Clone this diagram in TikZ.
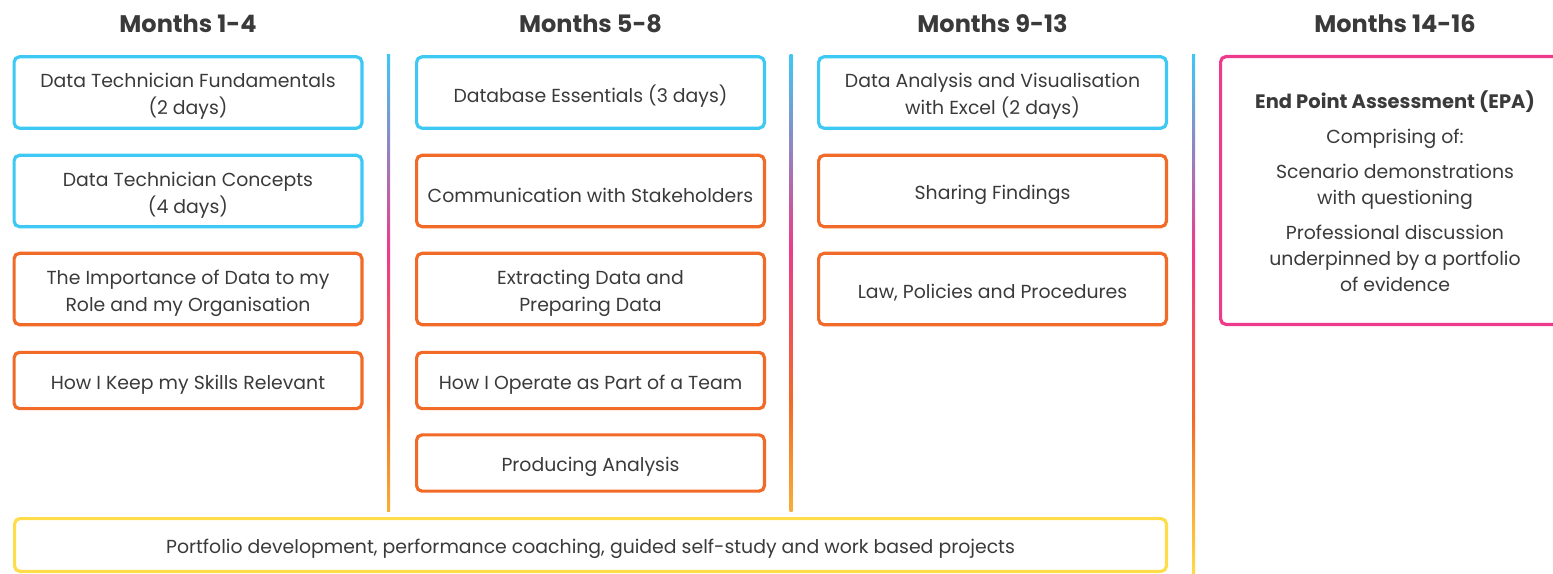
\documentclass[tikz,border=0pt]{standalone}
\usepackage{fontspec}
\setmainfont{Poppins}
\definecolor{cblue}{HTML}{3EC8F4}
\definecolor{corange}{HTML}{F26A27}
\definecolor{cpink}{HTML}{EE3A8A}
\definecolor{cyellow}{HTML}{FFDC4A}
\definecolor{ctext}{HTML}{3A3A3A}
\definecolor{lyel}{HTML}{F8AE36}
\pgfdeclareverticalshading{gradA}{100bp}{color(0bp)=(lyel); color(25bp)=(lyel); color(37bp)=(corange); color(53.6bp)=(cpink); color(75bp)=(cblue); color(100bp)=(cblue)}
\pgfdeclareverticalshading{gradB}{100bp}{color(0bp)=(cyellow); color(25bp)=(cyellow); color(40bp)=(corange); color(56bp)=(cpink); color(75bp)=(cblue); color(100bp)=(cblue)}
\tikzset{
  frame/.style={rounded corners=4pt, line width=2.4pt, inner sep=0pt},
  txt/.style={font=\fontsize{14.15}{20.25}\selectfont, text=ctext, align=center, inner sep=0pt},
  bluebox/.style={frame, draw=cblue, minimum width=260.85pt},
  orbox/.style={frame, draw=corange, minimum width=260.85pt},
  tall/.style={minimum height=53.5pt},
  short/.style={minimum height=42.2pt},
  head/.style={font=\fontsize{18}{22}\selectfont\bfseries, text=ctext, inner sep=0pt}
}
\newcommand{\boxitem}[5]{\node[#2] (#1) at (#3,#4) {};
  \node[txt] (#1t) at ([yshift=-3pt]#1.center) {#5};}
\begin{document}
\begin{tikzpicture}[x=0.75pt,y=-0.75pt]
\useasboundingbox (0,0) rectangle (1553,574);
\clip (0,0) rectangle (1553,574);
% headers
\node[head] (h1) at (188,24) {Months 1-4};
\node[head] (h2) at (590.5,24) {Months 5-8};
\node[head] (h3) at (992.5,24) {Months 9-13};
\node[head] (h4) at (1395,24) {Months 14-16};
% dividers
\shade[shading=gradA] (387,55) rectangle (390,511);
\shade[shading=gradA] (789.5,55) rectangle (792.5,511);
\shade[shading=gradB] (1192,55) rectangle (1195,574);
% column 1
\boxitem{a1}{bluebox,tall}{188}{92.5}{Data Technician Fundamentals\\(2 days)}
\boxitem{a2}{bluebox,tall}{188}{191}{Data Technician Concepts\\(4 days)}
\boxitem{a3}{orbox,tall}{188}{289}{The Importance of Data to my\\Role and my Organisation}
\boxitem{a4}{orbox,short}{188}{380.5}{How I Keep my Skills Relevant}
% column 2
\boxitem{b1}{bluebox,tall}{590.5}{92.5}{Database Essentials (3 days)}
\boxitem{b2}{orbox,tall}{590.5}{191}{Communication with Stakeholders}
\boxitem{b3}{orbox,tall}{590.5}{289}{Extracting Data and\\Preparing Data}
\boxitem{b4}{orbox,short}{590.5}{380.5}{How I Operate as Part of a Team}
\boxitem{b5}{orbox,short}{590.5}{463}{Producing Analysis}
% column 3
\boxitem{c1}{bluebox,tall}{992.5}{92.5}{Data Analysis and Visualisation\\with Excel (2 days)}
\boxitem{c2}{orbox,tall}{992.5}{191}{Sharing Findings}
\boxitem{c3}{orbox,tall}{992.5}{289}{Law, Policies and Procedures}
% EPA
\node[frame, draw=cpink, minimum width=261.6pt, minimum height=200.85pt] (d1) at (1395,190.5) {};
\node[txt, font=\fontsize{14.15}{19.5}\selectfont] (d1t) at ([yshift=-0.5pt]d1.center) {{\fontsize{14.6}{19.5}\selectfont\bfseries End Point Assessment (EPA)}\\[6.75pt]Comprising of:\\[6.75pt]Scenario demonstrations\\with questioning\\[6.75pt]Professional discussion\\underpinned by a portfolio\\of evidence};
% bottom bar
\boxitem{e1}{frame, draw=cyellow, minimum width=863.85pt, minimum height=39.6pt}{590.5}{545}{Portfolio development, performance coaching, guided self-study and work based projects}
\end{tikzpicture}
\end{document}
